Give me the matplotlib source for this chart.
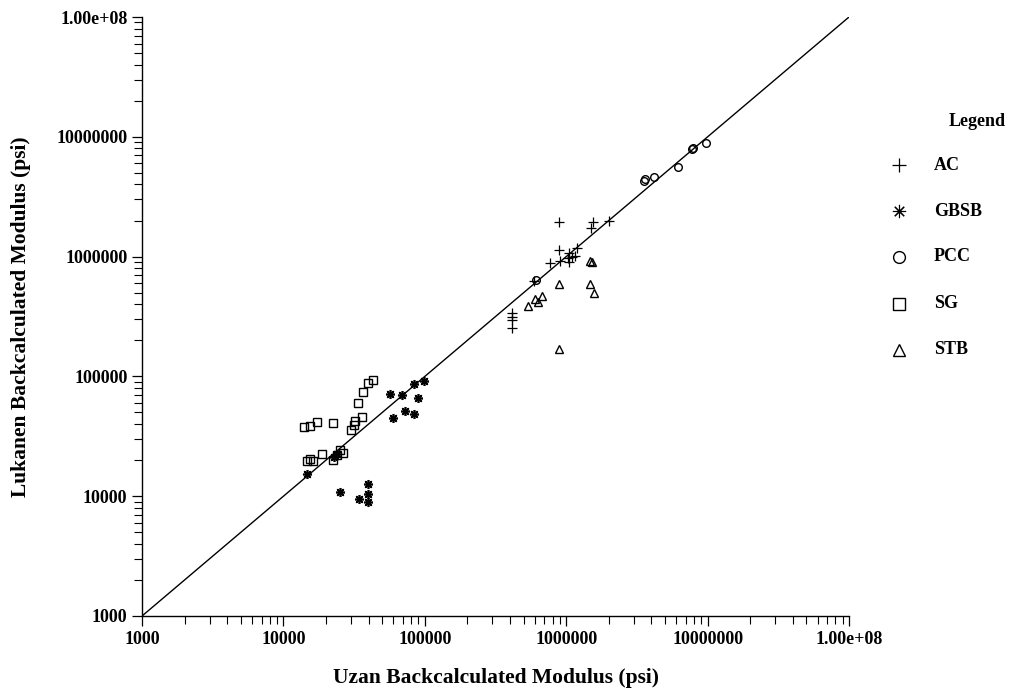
import matplotlib
matplotlib.use("Agg")
import matplotlib.pyplot as plt
from matplotlib.ticker import FixedLocator, FixedFormatter, LogLocator, NullFormatter

plt.rcParams['font.family'] = ['Liberation Serif', 'DejaVu Serif']

# Data (Uzan x, Lukanen y), psi
ac_x = [883000, 1538000, 1497000, 2018000, 883000, 1192000, 1040000, 1023000, 1099000,
        1052000, 1159000, 771000, 908000, 594000, 413000, 413000, 413000, 413000]
ac_y = [1954000, 1950000, 1722000, 1995000, 1135000, 1186000, 1064000, 977000, 997000,
        906000, 1012000, 879000, 919000, 625000, 336000, 315000, 296000, 255000]

gbsb_x = [97900, 84100, 56900, 69500, 88800, 72700, 84100, 60000, 14640, 22600, 24000,
          25200, 39550, 39550, 34350, 39550]
gbsb_y = [92100, 86500, 71300, 70000, 66400, 51400, 48500, 44700, 15300, 21400, 22500,
          10900, 12600, 10400, 9480, 8900]

pcc_x = [3570000, 3630000, 4160000, 6140000, 7770000, 7890000, 9750000, 610000]
pcc_y = [4300000, 4420000, 4650000, 5620000, 7910000, 8110000, 8930000, 640000]

sg_x = [42950, 39550, 36450, 33600, 35900, 32200, 31300, 30100, 14080, 15450, 17230,
        22370, 18700, 14640, 15450, 16300, 22370, 23880, 25200, 26300]
sg_y = [93300, 88500, 74500, 59600, 45600, 42700, 39300, 35700, 37600, 38800, 41900,
        40600, 22400, 19800, 20460, 19800, 20000, 22080, 24300, 23100]

stb_x = [1481000, 1523000, 883000, 1481000, 1563000, 674000, 604000, 631000, 533000, 883000]
stb_y = [918000, 906000, 587000, 590000, 500000, 469000, 443000, 421000, 387000, 169000]

tick_vals = [1e3, 1e4, 1e5, 1e6, 1e7, 1e8]
tick_labels = ['1000', '10000', '100000', '1000000', '10000000', '1.00e+08']

fig = plt.figure(figsize=(10.19, 6.94), dpi=100)
ax = fig.add_axes([0.1394, 0.1124, 0.6938, 0.8631])
ax.set_xscale('log')
ax.set_yscale('log')
ax.set_xlim(1e3, 1e8)
ax.set_ylim(1e3, 1e8)

ax.plot([1e3, 1e8], [1e3, 1e8], color='black', lw=1.0, zorder=1)

ms = 5.5
h_ac, = ax.plot(ac_x, ac_y, ls='none', marker='+', ms=ms + 1, mew=0.9, color='black')
h_gb, = ax.plot(gbsb_x, gbsb_y, ls='none', marker=(8, 2, 0), ms=ms + 1, mew=1.2, color='black')
h_pc, = ax.plot(pcc_x, pcc_y, ls='none', marker='o', ms=ms, mew=1.0, mfc='none', color='black')
h_sg, = ax.plot(sg_x, sg_y, ls='none', marker='s', ms=ms, mew=1.0, mfc='none', color='black')
h_st, = ax.plot(stb_x, stb_y, ls='none', marker='^', ms=ms, mew=1.0, mfc='none', color='black')

for s in ['top', 'right']:
    ax.spines[s].set_visible(False)
for s in ['left', 'bottom']:
    ax.spines[s].set_linewidth(1.0)

for axis in (ax.xaxis, ax.yaxis):
    axis.set_major_locator(FixedLocator(tick_vals))
    axis.set_major_formatter(FixedFormatter(tick_labels))
    axis.set_minor_locator(LogLocator(base=10, subs=range(2, 10)))
    axis.set_minor_formatter(NullFormatter())

ax.tick_params(which='major', direction='out', length=7, width=0.9, labelsize=13)
ax.tick_params(which='minor', direction='out', length=6, width=0.8)
for lab in ax.get_xticklabels() + ax.get_yticklabels():
    lab.set_fontweight('bold')

ax.set_xlabel('Uzan Backcalculated Modulus (psi)', fontsize=15.5, fontweight='bold', labelpad=15)
ax.set_ylabel('Lukanen Backcalculated Modulus (psi)', fontsize=15.5, fontweight='bold', labelpad=18)

# Legend
fig.text(977 / 1019, 1 - 121 / 694, 'Legend', fontsize=13, fontweight='bold', ha='center', va='center')
names = ['AC', 'GBSB', 'PCC', 'SG', 'STB']
handles = [h_ac, h_gb, h_pc, h_sg, h_st]
ypos = [165, 211, 257, 304, 350]
lmew = [0.9, 0.8, 1.0, 1.0, 1.0]
for nm, h, yp, mw in zip(names, handles, ypos, lmew):
    yf = 1 - yp / 694
    fig.lines.append(matplotlib.lines.Line2D([899 / 1019], [yf], transform=fig.transFigure,
                                              ls='none', marker=h.get_marker(), ms=h.get_markersize() + 3,
                                              mew=mw, mfc='none', color='black'))
    fig.text(934 / 1019, yf, nm, fontsize=13, fontweight='bold', ha='left', va='center')

fig.savefig('out.png', dpi=100)
